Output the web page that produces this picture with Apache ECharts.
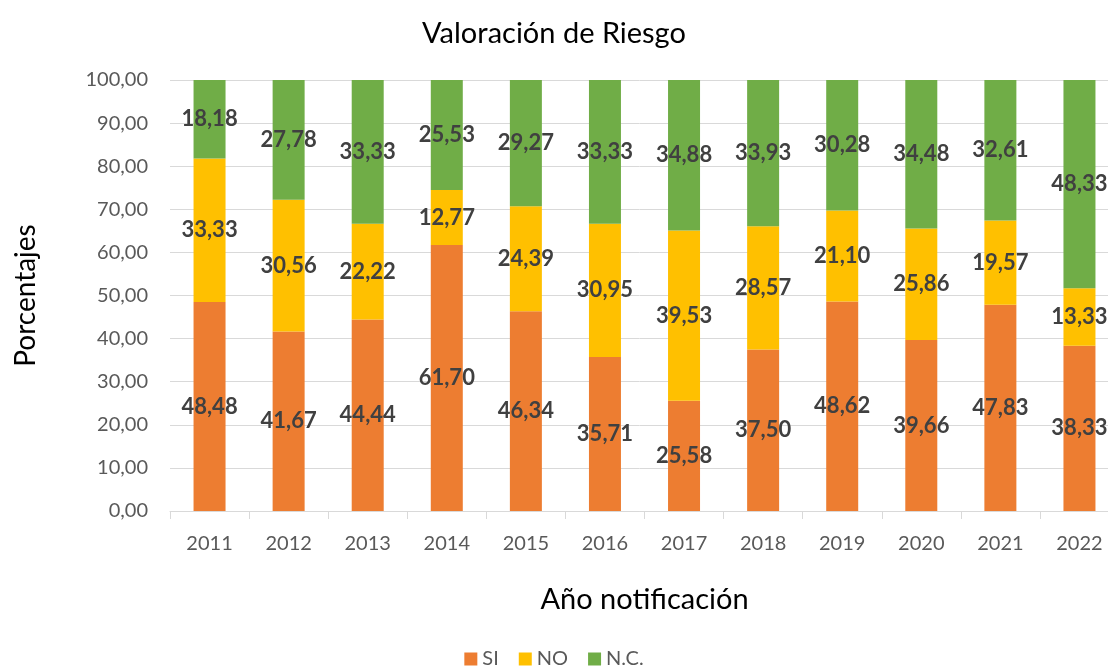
<!DOCTYPE html>
<html lang="es">
<head>
    <meta charset="UTF-8">
    <title>Valoración de Riesgo</title>
    <script src="https://cdn.jsdelivr.net/npm/echarts@6.0.0/dist/echarts.min.js"></script>
    <style>
        html, body { margin: 0; padding: 0; background: #fff; }
        #chart { width: 1108px; height: 666px; }
    </style>
</head>
<body>
<div id="chart"></div>
<script>
    const years = ['2011', '2012', '2013', '2014', '2015', '2016', '2017', '2018', '2019', '2020', '2021', '2022'];
    const si = [48.48, 41.67, 44.44, 61.70, 46.34, 35.71, 25.58, 37.50, 48.62, 39.66, 47.83, 38.33];
    const no = [33.33, 30.56, 22.22, 12.77, 24.39, 30.95, 39.53, 28.57, 21.10, 25.86, 19.57, 13.33];
    const nc = [18.18, 27.78, 33.33, 25.53, 29.27, 33.33, 34.88, 33.93, 30.28, 34.48, 32.61, 48.33];

    const FONT = 'Lato, "Open Sans", sans-serif';
    const fmt = v => v.toFixed(2).replace('.', ',');

    // etiquetas centradas en cada segmento
    const label = {
        show: true,
        position: 'inside',
        color: '#404040',
        fontFamily: FONT,
        fontWeight: 'bold',
        fontSize: 22,
        formatter: p => fmt(p.value)
    };

    function serie(name, data, color) {
        return {
            name: name,
            type: 'bar',
            stack: 'total',
            barWidth: 32,
            data: data,
            itemStyle: { color: color },
            label: label
        };
    }

    const myChart = echarts.init(document.getElementById('chart'));
    const option = {
        animation: false,
        title: {
            text: 'Valoración de Riesgo',
            left: 'center',
            top: 14,
            textStyle: { fontFamily: FONT, fontSize: 29, fontWeight: 'normal', color: '#000' }
        },
        grid: { left: 170, right: -11, top: 80, bottom: 155, outerBoundsMode: 'none' },
        legend: {
            top: 647,
            left: 'center',
            padding: 2,
            icon: 'rect',
            itemWidth: 13,
            itemHeight: 13,
            itemGap: 20,
            textStyle: { fontFamily: FONT, fontSize: 20, color: '#595959' }
        },
        xAxis: {
            type: 'category',
            data: years,
            name: 'Año notificación',
            nameLocation: 'middle',
            nameGap: 74,
            nameTextStyle: { fontFamily: FONT, fontSize: 29, color: '#000' },
            axisLine: { lineStyle: { color: '#d9d9d9' } },
            axisTick: { show: true, length: 8, lineStyle: { color: '#d9d9d9' } },
            axisLabel: { fontFamily: FONT, fontSize: 20, color: '#595959', margin: 23 }
        },
        yAxis: {
            type: 'value',
            min: 0,
            max: 100,
            interval: 10,
            name: 'Porcentajes',
            nameLocation: 'middle',
            nameGap: 130,
            nameTextStyle: { fontFamily: FONT, fontSize: 28, color: '#000' },
            axisLine: { show: false },
            axisTick: { show: false },
            splitLine: { lineStyle: { color: '#d9d9d9' } },
            axisLabel: { fontFamily: FONT, fontSize: 20, color: '#595959', margin: 22, formatter: v => fmt(v) }
        },
        series: [
            serie('SI', si, '#ED7D31'),
            serie('NO', no, '#FFC000'),
            serie('N.C.', nc, '#70AD47')
        ]
    };
    myChart.setOption(option);
</script>
</body>
</html>
